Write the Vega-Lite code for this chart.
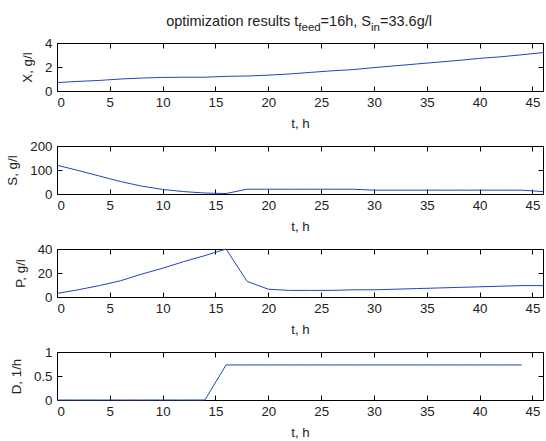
{
  "$schema": "https://vega.github.io/schema/vega-lite/v6.json",
  "padding": {"left": 5, "top": 13, "right": 0, "bottom": 0},
  "data": {"values": [
    {"t": 0, "X": 0.7, "S": 120, "P": 3, "D": 0},
    {"t": 2, "X": 0.8, "S": 98, "P": 6, "D": 0},
    {"t": 4, "X": 0.88, "S": 75, "P": 9.5, "D": 0},
    {"t": 6, "X": 1.0, "S": 52, "P": 13.5, "D": 0},
    {"t": 8, "X": 1.08, "S": 33, "P": 19, "D": 0},
    {"t": 10, "X": 1.13, "S": 19, "P": 24, "D": 0},
    {"t": 12, "X": 1.15, "S": 10, "P": 29.5, "D": 0},
    {"t": 14, "X": 1.15, "S": 4, "P": 34.5, "D": 0},
    {"t": 16, "X": 1.22, "S": 2, "P": 40, "D": 0.73},
    {"t": 18, "X": 1.25, "S": 20, "P": 13, "D": 0.73},
    {"t": 20, "X": 1.32, "S": 20, "P": 6.5, "D": 0.73},
    {"t": 22, "X": 1.42, "S": 20, "P": 5.5, "D": 0.73},
    {"t": 24, "X": 1.55, "S": 20, "P": 5.5, "D": 0.73},
    {"t": 26, "X": 1.68, "S": 20, "P": 5.5, "D": 0.73},
    {"t": 28, "X": 1.78, "S": 20, "P": 6, "D": 0.73},
    {"t": 30, "X": 1.95, "S": 16, "P": 6, "D": 0.73},
    {"t": 32, "X": 2.1, "S": 16, "P": 6.5, "D": 0.73},
    {"t": 34, "X": 2.25, "S": 16, "P": 7, "D": 0.73},
    {"t": 36, "X": 2.4, "S": 16, "P": 7.5, "D": 0.73},
    {"t": 38, "X": 2.55, "S": 16, "P": 8, "D": 0.73},
    {"t": 40, "X": 2.72, "S": 16, "P": 8.5, "D": 0.73},
    {"t": 42, "X": 2.85, "S": 16, "P": 9, "D": 0.73},
    {"t": 44, "X": 3.02, "S": 16, "P": 9.5, "D": 0.73},
    {"t": 46, "X": 3.2, "S": 10, "P": 9.5, "D": null}
  ]},
  "spacing": 55,
  "bounds": "flush",
  "vconcat": [
    {
      "width": 486, "height": 48,
      "layer": [
        {"mark": {"type": "line", "color": "#2244bb", "strokeWidth": 1},
         "encoding": {
           "x": {"field": "t", "type": "quantitative", "scale": {"domain": [0, 46], "nice": false}, "axis": {"orient": "bottom", "values": [0,5,10,15,20,25,30,35,40,45], "title": "t, h"}},
           "y": {"field": "X", "type": "quantitative", "scale": {"domain": [0, 4], "nice": false}, "axis": {"orient": "left", "values": [0,2,4], "title": "X, g/l", "format": ".2~f"}}}},
        {"mark": {"type": "line", "opacity": 0},
         "encoding": {
           "x": {"field": "t", "type": "quantitative", "scale": {"domain": [0, 46], "nice": false}, "axis": {"orient": "top", "values": [0,5,10,15,20,25,30,35,40,45], "labels": false, "title": null}},
           "y": {"field": "X", "type": "quantitative", "scale": {"domain": [0, 4], "nice": false}, "axis": {"orient": "right", "values": [0,2,4], "labels": false, "title": null}}}},
        {"data": {"values": [{"label": "optimization results t"}]},
         "mark": {"type": "text", "align": "left", "baseline": "alphabetic", "dy": -17.5, "fontSize": 14.5, "color": "#222"},
         "encoding": {"text": {"field": "label"}, "x": {"datum": 10.33, "scale": {"domain": [0, 46], "nice": false}, "axis": null}, "y": {"datum": 4, "scale": {"domain": [0, 4], "nice": false}, "axis": null}}},
        {"data": {"values": [{"label": "feed"}]},
         "mark": {"type": "text", "align": "left", "baseline": "alphabetic", "dy": -12, "fontSize": 11.5, "color": "#222"},
         "encoding": {"text": {"field": "label"}, "x": {"datum": 22.84, "scale": {"domain": [0, 46], "nice": false}, "axis": null}, "y": {"datum": 4, "scale": {"domain": [0, 4], "nice": false}, "axis": null}}},
        {"data": {"values": [{"label": "=16h, S"}]},
         "mark": {"type": "text", "align": "left", "baseline": "alphabetic", "dy": -17.5, "fontSize": 14.5, "color": "#222"},
         "encoding": {"text": {"field": "label"}, "x": {"datum": 24.95, "scale": {"domain": [0, 46], "nice": false}, "axis": null}, "y": {"datum": 4, "scale": {"domain": [0, 4], "nice": false}, "axis": null}}},
        {"data": {"values": [{"label": "in"}]},
         "mark": {"type": "text", "align": "left", "baseline": "alphabetic", "dy": -12, "fontSize": 11.5, "color": "#222"},
         "encoding": {"text": {"field": "label"}, "x": {"datum": 29.72, "scale": {"domain": [0, 46], "nice": false}, "axis": null}, "y": {"datum": 4, "scale": {"domain": [0, 4], "nice": false}, "axis": null}}},
        {"data": {"values": [{"label": "=33.6g/l"}]},
         "mark": {"type": "text", "align": "left", "baseline": "alphabetic", "dy": -17.5, "fontSize": 14.5, "color": "#222"},
         "encoding": {"text": {"field": "label"}, "x": {"datum": 30.57, "scale": {"domain": [0, 46], "nice": false}, "axis": null}, "y": {"datum": 4, "scale": {"domain": [0, 4], "nice": false}, "axis": null}}}
      ],
      "resolve": {"axis": {"x": "independent", "y": "independent"}}
    },
    {
      "width": 486, "height": 48,
      "layer": [
        {"mark": {"type": "line", "color": "#2244bb", "strokeWidth": 1},
         "encoding": {
           "x": {"field": "t", "type": "quantitative", "scale": {"domain": [0, 46], "nice": false}, "axis": {"orient": "bottom", "values": [0,5,10,15,20,25,30,35,40,45], "title": "t, h"}},
           "y": {"field": "S", "type": "quantitative", "scale": {"domain": [0, 200], "nice": false}, "axis": {"orient": "left", "values": [0,100,200], "title": "S, g/l", "format": ".2~f"}}}},
        {"mark": {"type": "line", "opacity": 0},
         "encoding": {
           "x": {"field": "t", "type": "quantitative", "scale": {"domain": [0, 46], "nice": false}, "axis": {"orient": "top", "values": [0,5,10,15,20,25,30,35,40,45], "labels": false, "title": null}},
           "y": {"field": "S", "type": "quantitative", "scale": {"domain": [0, 200], "nice": false}, "axis": {"orient": "right", "values": [0,100,200], "labels": false, "title": null}}}}
      ],
      "resolve": {"axis": {"x": "independent", "y": "independent"}}
    },
    {
      "width": 486, "height": 48,
      "layer": [
        {"mark": {"type": "line", "color": "#2244bb", "strokeWidth": 1},
         "encoding": {
           "x": {"field": "t", "type": "quantitative", "scale": {"domain": [0, 46], "nice": false}, "axis": {"orient": "bottom", "values": [0,5,10,15,20,25,30,35,40,45], "title": "t, h"}},
           "y": {"field": "P", "type": "quantitative", "scale": {"domain": [0, 40], "nice": false}, "axis": {"orient": "left", "values": [0,20,40], "title": "P, g/l", "format": ".2~f"}}}},
        {"mark": {"type": "line", "opacity": 0},
         "encoding": {
           "x": {"field": "t", "type": "quantitative", "scale": {"domain": [0, 46], "nice": false}, "axis": {"orient": "top", "values": [0,5,10,15,20,25,30,35,40,45], "labels": false, "title": null}},
           "y": {"field": "P", "type": "quantitative", "scale": {"domain": [0, 40], "nice": false}, "axis": {"orient": "right", "values": [0,20,40], "labels": false, "title": null}}}}
      ],
      "resolve": {"axis": {"x": "independent", "y": "independent"}}
    },
    {
      "width": 486, "height": 48,
      "layer": [
        {"mark": {"type": "line", "color": "#2244bb", "strokeWidth": 1},
         "encoding": {
           "x": {"field": "t", "type": "quantitative", "scale": {"domain": [0, 46], "nice": false}, "axis": {"orient": "bottom", "values": [0,5,10,15,20,25,30,35,40,45], "title": "t, h"}},
           "y": {"field": "D", "type": "quantitative", "scale": {"domain": [0, 1], "nice": false}, "axis": {"orient": "left", "values": [0,0.5,1], "title": "D, 1/h", "format": ".2~f"}}}},
        {"mark": {"type": "line", "opacity": 0},
         "encoding": {
           "x": {"field": "t", "type": "quantitative", "scale": {"domain": [0, 46], "nice": false}, "axis": {"orient": "top", "values": [0,5,10,15,20,25,30,35,40,45], "labels": false, "title": null}},
           "y": {"field": "D", "type": "quantitative", "scale": {"domain": [0, 1], "nice": false}, "axis": {"orient": "right", "values": [0,0.5,1], "labels": false, "title": null}}}}
      ],
      "resolve": {"axis": {"x": "independent", "y": "independent"}}
    }
  ],
  "config": {
    "font": "Liberation Sans",
    "view": {"stroke": "#000", "strokeWidth": 1},
    "axis": {
      "domain": false,
      "grid": false,
      "ticks": true,
      "tickSize": -5,
      "tickColor": "#000",
      "tickWidth": 1,
      "labelFont": "Liberation Sans",
      "labelFontSize": 13.3,
      "labelColor": "#222",
      "titleFont": "Liberation Sans",
      "titleFontSize": 13.3,
      "titleFontWeight": "normal",
      "titleColor": "#222"
    },
    "axisLeft": {"titlePadding": 10, "labelPadding": 10},
    "axisBottom": {"titlePadding": 8, "labelPadding": 9}
  }
}
